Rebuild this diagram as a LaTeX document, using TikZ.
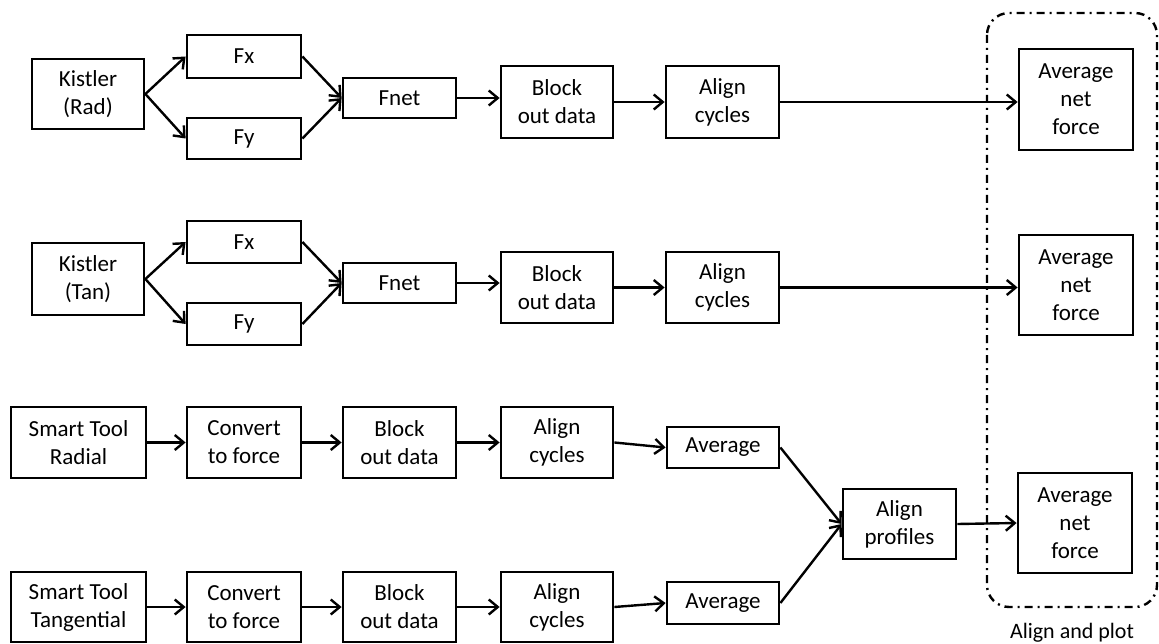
\documentclass[tikz,border=0pt]{standalone}
\usepackage{fontspec}
\setmainfont{Carlito}
\usetikzlibrary{arrows.meta}
\begin{document}
\begin{tikzpicture}[x=1pt,y=-1pt,
  box/.style={draw, line width=2.8pt, inner sep=0pt, align=center,
    font=\fontsize{23}{28}\selectfont},
  link/.style={line width=2.4pt, -{Straight Barb[length=9pt,width=15pt,line width=2.4pt]}},
  group/.style={line width=2.4pt, rounded corners=22pt, dash pattern=on 8pt off 5pt on 2pt off 5pt}]
\useasboundingbox (0,0) rectangle (1159,644);
% row 1
\node[box, minimum width=112pt, minimum height=70pt] (kr) at (88,94) {Kistler\\(Rad)};
\node[box, minimum width=114pt, minimum height=43pt] (fx1) at (244,56.5) {Fx};
\node[box, minimum width=114pt, minimum height=41pt] (fy1) at (244,138.5) {Fy};
\node[box, minimum width=113pt, minimum height=40pt] (fn1) at (399.5,98) {Fnet};
\node[box, minimum width=112pt, minimum height=72pt] (bo1) at (557,102) {Block\\out data};
\node[box, minimum width=113pt, minimum height=72pt] (ac1) at (722.5,102) {Align\\cycles};
\node[box, minimum width=114pt, minimum height=101pt] (anf1) at (1076,99.5) {Average\\net\\force};
% row 2
\node[box, minimum width=112pt, minimum height=72pt] (kt) at (88,279) {Kistler\\(Tan)};
\node[box, minimum width=114pt, minimum height=42pt] (fx2) at (244,242) {Fx};
\node[box, minimum width=114pt, minimum height=42pt] (fy2) at (244,324) {Fy};
\node[box, minimum width=113pt, minimum height=40pt] (fn2) at (399.5,283) {Fnet};
\node[box, minimum width=112pt, minimum height=71pt] (bo2) at (557,287.5) {Block\\out data};
\node[box, minimum width=113pt, minimum height=71pt] (ac2) at (722.5,287.5) {Align\\cycles};
\node[box, minimum width=114pt, minimum height=100pt] (anf2) at (1076,285) {Average\\net\\force};
% row 3
\node[box, minimum width=135pt, minimum height=71pt] (st1) at (78.5,442.5) {Smart Tool\\Radial};
\node[box, minimum width=114pt, minimum height=71pt] (cv1) at (244,442.5) {Convert\\to force};
\node[box, minimum width=113pt, minimum height=71pt] (bo3) at (399.5,442.5) {Block\\out data};
\node[box, minimum width=112pt, minimum height=71pt] (al3) at (557,442.5) {Align\\cycles};
\node[box, minimum width=112pt, minimum height=41pt] (av1) at (723,447.5) {Average};
% row 4
\node[box, minimum width=135pt, minimum height=70pt] (st2) at (78.5,607) {Smart Tool\\Tangential};
\node[box, minimum width=114pt, minimum height=70pt] (cv2) at (244,607) {Convert\\to force};
\node[box, minimum width=113pt, minimum height=70pt] (bo4) at (399.5,607) {Block\\out data};
\node[box, minimum width=112pt, minimum height=70pt] (al4) at (557,607) {Align\\cycles};
\node[box, minimum width=112pt, minimum height=42pt] (av2) at (723,603) {Average};
% merge
\node[box, minimum width=113pt, minimum height=70pt] (ap) at (899.5,524) {Align\\profiles};
\node[box, minimum width=114pt, minimum height=100pt] (anf3) at (1075,523) {Average\\net\\force};
% group
\draw[group] (987,13) rectangle (1157,607);
\node[font=\fontsize{22}{26}\selectfont] (lbl) at (1072,633) {Align and plot};
% connectors
\draw[link] (kr.east) -- (fx1.west);
\draw[link] (kr.east) -- (fy1.west);
\draw[link] (fx1.east) -- (fn1.west);
\draw[link] (fy1.east) -- (fn1.west);
\draw[link] (fn1.east) -- (fn1.east -| bo1.west);
\draw[link] (bo1.east) -- (ac1.west);
\draw[link] (ac1.east) -- (ac1.east -| anf1.west);
\draw[link] (kt.east) -- (fx2.west);
\draw[link] (kt.east) -- (fy2.west);
\draw[link] (fx2.east) -- (fn2.west);
\draw[link] (fy2.east) -- (fn2.west);
\draw[link] (fn2.east) -- (fn2.east -| bo2.west);
\draw[link] (bo2.east) -- (ac2.west);
\draw[link] (ac2.east) -- (ac2.east -| anf2.west);
\draw[link] (st1.east) -- (cv1.west);
\draw[link] (cv1.east) -- (bo3.west);
\draw[link] (bo3.east) -- (al3.west);
\draw[link] (al3.east) -- (av1.west);
\draw[link] (st2.east) -- (cv2.west);
\draw[link] (cv2.east) -- (bo4.west);
\draw[link] (bo4.east) -- (al4.west);
\draw[link] (al4.east) -- (av2.west);
\draw[link] (av1.east) -- (ap.west);
\draw[link] (av2.east) -- (ap.west);
\draw[link] (ap.east) -- (anf3.west);
\end{tikzpicture}
\end{document}
